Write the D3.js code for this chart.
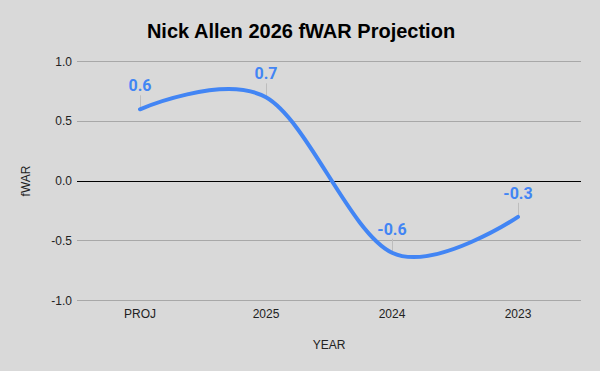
<!DOCTYPE html>
<html>
<head>
<meta charset="utf-8">
<script src="https://cdn.jsdelivr.net/npm/d3@7"></script>
<style>
  body { margin: 0; background: #d9d9d9; }
  svg { display: block; font-family: "Liberation Sans", Arial, sans-serif; }
</style>
</head>
<body>
<div id="chart"></div>
<script>
// Nick Allen fWAR by year, plus the 2026 projection

const years = ["PROJ", "2025", "2024", "2023"];
const fwar = [0.6, 0.7, -0.6, -0.3];
const yTicks = [-1.0, -0.5, 0.0, 0.5, 1.0];

const width = 600,
  height = 371,
  margin = { top: 61.5, right: 19, bottom: 70.5, left: 77 },
  blue = "#4285f4";

const svg = d3.select("#chart")
  .append("svg")
  .attr("width", width)
  .attr("height", height);

svg.append("rect")
  .attr("width", width)
  .attr("height", height)
  .attr("fill", "#d9d9d9");

const x = d3.scalePoint()
  .domain(years)
  .range([margin.left, width - margin.right])
  .padding(0.5);

const y = d3.scaleLinear()
  .domain([-1, 1])
  .range([height - margin.bottom, margin.top]);

// gridlines
svg.append("g")
  .selectAll("line")
  .data(yTicks)
  .join("line")
  .attr("x1", margin.left)
  .attr("x2", width - margin.right)
  .attr("y1", d => y(d))
  .attr("y2", d => y(d))
  .attr("stroke", d => d === 0 ? "#000" : "#a8a8a8")
  .attr("stroke-width", 1)
  .attr("shape-rendering", "crispEdges");

// y tick labels
svg.append("g")
  .attr("font-size", 12)
  .attr("fill", "#222")
  .attr("text-anchor", "end")
  .selectAll("text")
  .data(yTicks)
  .join("text")
  .attr("x", margin.left - 5)
  .attr("y", d => y(d))
  .attr("dy", "0.35em")
  .text(d => d3.format(".1f")(d).replace("−", "-"));

// x tick labels
svg.append("g")
  .attr("font-size", 12)
  .attr("fill", "#222")
  .attr("text-anchor", "middle")
  .selectAll("text")
  .data(years)
  .join("text")
  .attr("x", d => x(d))
  .attr("y", height - margin.bottom + 17)
  .text(d => d);

const points = years.map((yr, i) => ({ year: yr, value: fwar[i] }));

// leader lines
svg.append("g")
  .attr("stroke", "#bdbdbd")
  .attr("stroke-width", 1)
  .selectAll("line")
  .data(points)
  .join("line")
  .attr("x1", d => Math.round(x(d.year)) + 0.5)
  .attr("x2", d => Math.round(x(d.year)) + 0.5)
  .attr("y1", d => y(d.value))
  .attr("y2", d => y(d.value) - 14);

const line = d3.line()
  .x(d => x(d.year))
  .y(d => y(d.value))
  .curve(d3.curveCardinal.tension(0));

svg.append("path")
  .datum(points)
  .attr("fill", "none")
  .attr("stroke", blue)
  .attr("stroke-width", 4)
  .attr("stroke-linecap", "round")
  .attr("d", line);

// data labels
svg.append("g")
  .attr("font-family", "Roboto, sans-serif")
  .attr("font-weight", "bold")
  .attr("font-size", 16)
  .attr("fill", blue)
  .attr("text-anchor", "middle")
  .selectAll("text")
  .data(points)
  .join("text")
  .attr("x", d => x(d.year))
  .attr("y", d => y(d.value) - 18)
  .text(d => d3.format(".1f")(d.value).replace("−", "-"));

// title
svg.append("text")
  .attr("x", 301)
  .attr("y", 38)
  .attr("text-anchor", "middle")
  .attr("font-size", 20)
  .attr("font-weight", "bold")
  .attr("fill", "#000")
  .text("Nick Allen 2026 fWAR Projection");

// axis titles
svg.append("text")
  .attr("x", (margin.left + width - margin.right) / 2)
  .attr("y", 349)
  .attr("text-anchor", "middle")
  .attr("font-size", 12)
  .attr("fill", "#222")
  .text("YEAR");

svg.append("text")
  .attr("transform", `translate(30,${y(0)}) rotate(-90)`)
  .attr("text-anchor", "middle")
  .attr("font-size", 12)
  .attr("fill", "#222")
  .text("fWAR");
</script>
</body>
</html>
